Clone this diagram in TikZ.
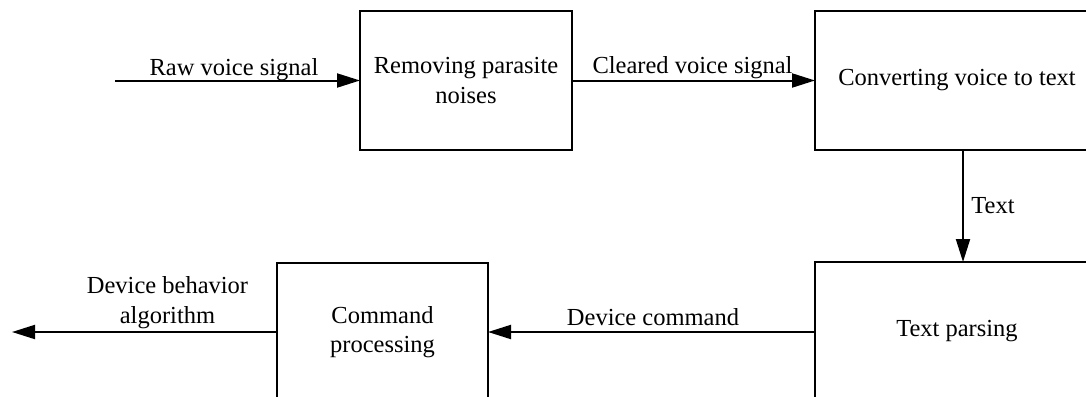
\documentclass[tikz,border=0pt]{standalone}
\usepackage{fontspec}
\setmainfont{Liberation Serif}
\usetikzlibrary{arrows.meta}
\begin{document}
\begin{tikzpicture}[x=0.5pt,y=-0.5pt,
  every node/.style={font=\fontsize{12.25}{14.75}\selectfont},
  block/.style={draw, line width=1pt, inner sep=0pt, outer sep=0pt, align=center},
  flow/.style={line width=1pt, -{Triangle[length=11.5pt,width=7pt]}},
  tag/.style={inner sep=0pt, anchor=base}]
\useasboundingbox (0,0) rectangle (1086,396);
\clip (0,0) rectangle (1086,396);

% processing stages
\node[block, minimum width=106pt, minimum height=69.5pt] (rem) at (466,80.5) {Removing parasite\\noises};
\node[block, minimum width=142pt, minimum height=69.5pt] (conv) at (957,80.5) {Converting voice to text};
\node[block, minimum width=142pt, minimum height=69.5pt] (pars) at (957,331.5) {Text parsing};
\node[block, minimum width=105.5pt, minimum height=69pt] (cmd) at (382.5,332) {Command\\processing};

% free ends and the column of the vertical connector
\coordinate (src) at (115,80.5);
\coordinate (dst) at (12,332);
\coordinate (tcol) at (963,200);

% connectors
\draw[flow] (src) -- (rem.west);
\draw[flow] (rem.east) -- (conv.west);
\draw[flow] (conv.south -| tcol) -- (pars.north -| tcol);
\draw[flow] (pars.west |- cmd.east) -- (cmd.east);
\draw[flow] (cmd.west) -- (dst);

% connector labels
\node[tag] (lraw) at (234,75) {Raw voice signal};
\node[tag] (lclr) at (692.5,73) {Cleared voice signal};
\node[tag, anchor=base west] (ltxt) at (971,213) {Text};
\node[tag] (lcmd) at (653,325) {Device command};
\node[tag, align=center] (lalg) at (167.5,323) {Device behavior\\algorithm};
\end{tikzpicture}
\end{document}
